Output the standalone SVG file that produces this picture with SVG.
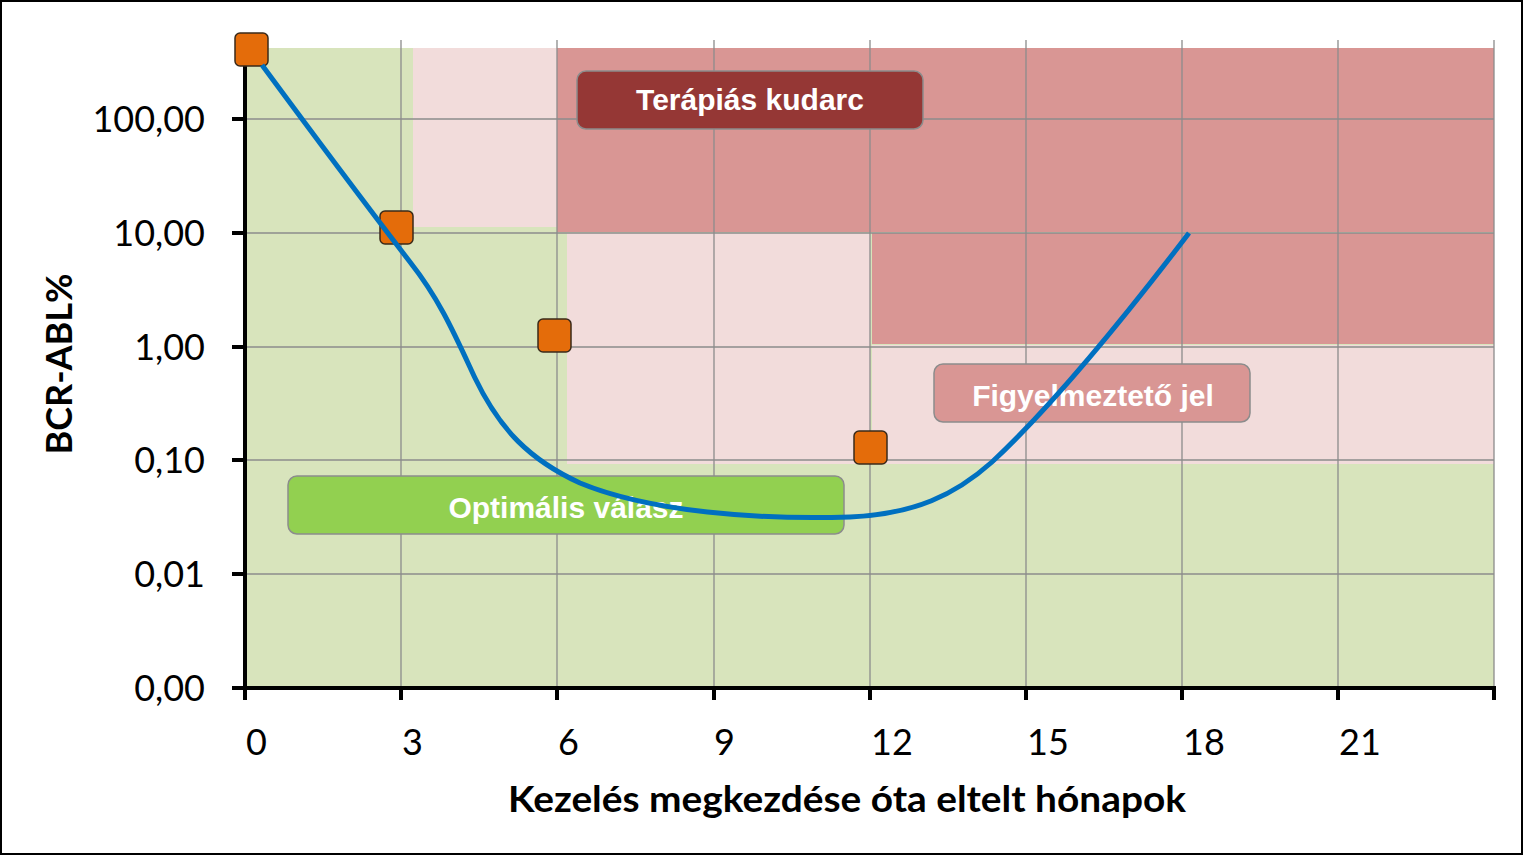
<svg xmlns="http://www.w3.org/2000/svg" width="1523" height="855" viewBox="0 0 1523 855">
  <style>
    .grid { stroke: #8c8c8c; stroke-width: 1.3; fill: none; }
    .axis { stroke: #000; stroke-width: 4; fill: none; }
    .tick { font-family: Lato, "Open Sans", sans-serif; font-size: 36px; fill: #000; }
    .title { font-family: Lato, "Open Sans", sans-serif; font-size: 36px; font-weight: bold; fill: #000; }
    .lbl { font-family: "Liberation Sans", Arial, sans-serif; font-size: 30px; font-weight: bold; fill: #fff; text-anchor: middle; }
    .box { stroke: #8c8c8c; stroke-width: 1.5; }
    .mk { fill: #e46c0a; stroke: #3a2a1a; stroke-width: 1.5; }
  </style>
  <rect x="0" y="0" width="1523" height="855" fill="#fff"/>
  <g id="background">
    <rect x="245" y="48" width="1249" height="640" fill="#d8e4bc"/>
    <rect x="413" y="48" width="144" height="179" fill="#f2dcdb"/>
    <rect x="557" y="48" width="937" height="184" fill="#d99694"/>
    <rect x="567" y="233" width="303" height="231" fill="#f2dcdb"/>
    <rect x="872" y="345" width="622" height="119" fill="#f2dcdb"/>
    <rect x="872" y="233" width="622" height="111" fill="#d99694"/>
  </g>
  <g id="grid">
    <path class="grid" d="M401,40V688 M557,40V688 M714,40V688 M870,40V688 M1026,40V688 M1182,40V688 M1338,40V688 M1494,40V688"/>
    <path class="grid" d="M245,119H1494 M245,233H1494 M245,347H1494 M245,460H1494 M245,574H1494"/>
  </g>
  <g id="axes">
    <path class="axis" d="M245,48V690 M243,688H1496"/>
    <path class="axis" d="M232,119H245 M232,233H245 M232,347H245 M232,460H245 M232,574H245 M232,688H245"/>
    <path class="axis" d="M245,688V700 M401,688V700 M557,688V700 M714,688V700 M870,688V700 M1026,688V700 M1182,688V700 M1338,688V700 M1494,688V700"/>
    <g class="tick" text-anchor="end">
      <text x="205" y="132">100,00</text>
      <text x="205" y="246">10,00</text>
      <text x="205" y="360">1,00</text>
      <text x="205" y="473">0,10</text>
      <text x="205" y="587">0,01</text>
      <text x="205" y="701">0,00</text>
    </g>
    <g class="tick">
      <text x="246" y="755">0</text>
      <text x="402" y="755">3</text>
      <text x="558" y="755">6</text>
      <text x="714" y="755">9</text>
      <text x="871" y="755">12</text>
      <text x="1027" y="755">15</text>
      <text x="1183" y="755">18</text>
      <text x="1339" y="755">21</text>
    </g>
    <text class="title" x="508" y="812" textLength="678" lengthAdjust="spacingAndGlyphs">Kezelés megkezdése óta eltelt hónapok</text>
    <text class="title" transform="translate(72,364) rotate(-90)" text-anchor="middle">BCR-ABL%</text>
  </g>
  <g id="node-terapias-kudarc">
    <rect class="box" x="577" y="71" width="346" height="58" rx="9" fill="#953735"/>
    <text class="lbl" x="750" y="110">Terápiás kudarc</text>
  </g>
  <g id="node-figyelmezteto-jel">
    <rect class="box" x="934" y="364" width="316" height="58" rx="9" fill="#d99694"/>
    <text class="lbl" x="1093" y="406">Figyelmeztető jel</text>
  </g>
  <g id="node-optimalis-valasz">
    <rect class="box" x="288" y="476" width="556" height="58" rx="9" fill="#92d050"/>
    <text class="lbl" x="566" y="518">Optimális válasz</text>
  </g>
  <g id="node-m0"><rect class="mk" x="235" y="33" width="33" height="33" rx="5"/></g>
  <g id="node-m3"><rect class="mk" x="380" y="211" width="33" height="33" rx="5"/></g>
  <g id="node-m6"><rect class="mk" x="538" y="319" width="33" height="33" rx="5"/></g>
  <g id="node-m12"><rect class="mk" x="854" y="431" width="33" height="33" rx="5"/></g>
  <g id="connectors">
    <path d="M262,65 C310,130 370,210 410,262 C440,300 455,335 475,378 C500,430 530,460 580,483 C650,512 760,520 850,517 C915,514 955,495 992,462 C1050,408 1115,330 1189,233" fill="none" stroke="#0070c0" stroke-width="5"/>
  </g>
  <rect x="1" y="1" width="1521" height="853" fill="none" stroke="#000" stroke-width="2"/>
</svg>
